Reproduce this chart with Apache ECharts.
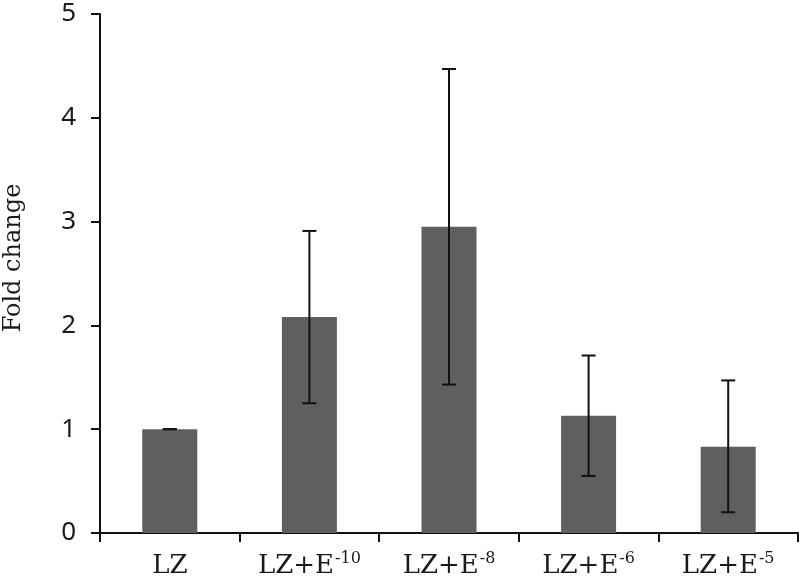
<!DOCTYPE html>
<html>
<head>
<meta charset="utf-8">
<script src="https://cdn.jsdelivr.net/npm/echarts@6/dist/echarts.min.js"></script>
<style>html,body{margin:0;padding:0;background:#fff;}#c{width:800px;height:584px;}</style>
</head>
<body>
<div id="c"></div>
<script>
var categories = ['LZ', 'LZ+E-10', 'LZ+E-8', 'LZ+E-6', 'LZ+E-5'];
var means = [1.0, 2.08, 2.95, 1.13, 0.83];
var upper = [1.0, 2.91, 4.47, 1.71, 1.47];
var lower = [1.0, 1.25, 1.43, 0.55, 0.20];
var yTicks = [0, 1, 2, 3, 4, 5];
var yTitle = 'Fold change';

var errData = categories.map(function (c, i) { return [i, lower[i], upper[i]]; });

var chart = echarts.init(document.getElementById('c'));
chart.setOption({
  animation: false,
  backgroundColor: '#fff',
  grid: { left: 100, right: 2, top: 14, bottom: 51, containLabel: false, outerBoundsMode: 'none' },
  graphic: [{
    type: 'text',
    x: 14,
    y: 258,
    rotation: Math.PI / 2,
    style: {
      text: yTitle,
      fontFamily: 'DejaVu Serif',
      fontSize: 24,
      fill: '#1a1a1a',
      align: 'center',
      verticalAlign: 'middle'
    }
  }],
  xAxis: {
    type: 'category',
    data: categories,
    axisLine: { lineStyle: { color: '#111', width: 2 } },
    axisTick: { show: true, interval: 0, length: 9, lineStyle: { color: '#111', width: 2 } },
    axisLabel: {
      interval: 0,
      margin: 18,
      formatter: function (v) {
        var m = v.match(/^(LZ\+E)(-\d+)$/);
        if (m) return '{b|' + m[1] + '}{s|' + m[2] + '}';
        return '{b|' + v + '}';
      },
      rich: {
        b: { fontFamily: 'DejaVu Serif', fontSize: 26, color: '#1a1a1a', lineHeight: 28, verticalAlign: 'bottom' },
        s: { fontFamily: 'DejaVu Serif', fontSize: 16, color: '#1a1a1a', verticalAlign: 'top', padding: [0, 0, 0, 1] }
      }
    },
    splitLine: { show: false }
  },
  yAxis: {
    type: 'value',
    min: yTicks[0],
    max: yTicks[yTicks.length - 1],
    interval: 1,
    axisLine: { show: true, lineStyle: { color: '#111', width: 2 } },
    axisTick: { show: true, length: 9, lineStyle: { color: '#111', width: 2 } },
    axisLabel: { margin: 24, fontFamily: 'Noto Sans', fontSize: 26, color: '#1a1a1a' },
    splitLine: { show: false }
  },
  series: [
    {
      type: 'bar',
      data: means,
      barWidth: 55,
      itemStyle: { color: '#5f5f5f' },
      z: 2
    },
    {
      type: 'custom',
      data: errData,
      z: 5,
      renderItem: function (params, api) {
        var x = api.value(0);
        var lo = api.coord([x, api.value(1)]);
        var hi = api.coord([x, api.value(2)]);
        var hw = 7;
        var st = { stroke: '#111', lineWidth: 2 };
        return {
          type: 'group',
          children: [
            { type: 'line', shape: { x1: lo[0], y1: lo[1], x2: hi[0], y2: hi[1] }, style: st },
            { type: 'line', shape: { x1: hi[0] - hw, y1: hi[1], x2: hi[0] + hw, y2: hi[1] }, style: st },
            { type: 'line', shape: { x1: lo[0] - hw, y1: lo[1], x2: lo[0] + hw, y2: lo[1] }, style: st }
          ]
        };
      }
    }
  ]
});
</script>
</body>
</html>
